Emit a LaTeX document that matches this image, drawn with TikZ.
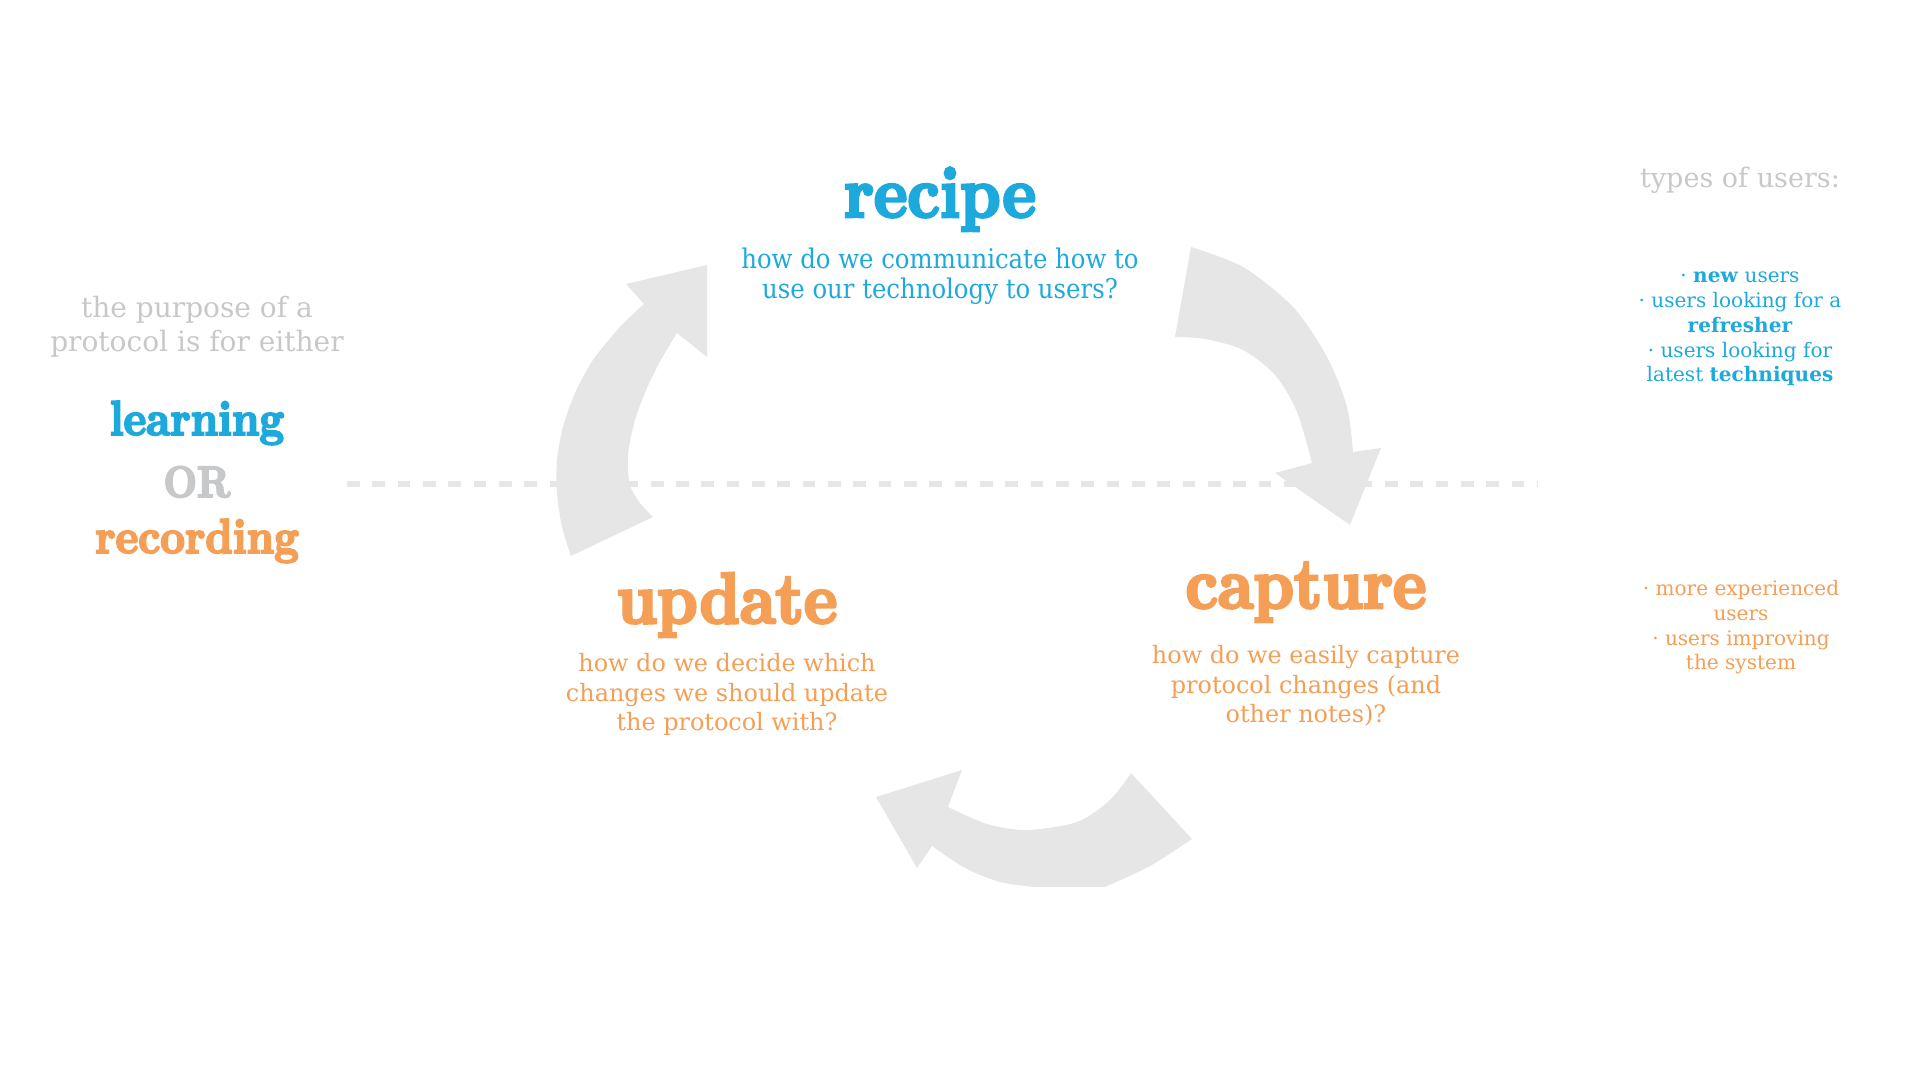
\documentclass[tikz,border=0pt]{standalone}
\usepackage{fontspec}
\setmainfont{DejaVu Serif}
\newfontfamily\headfont{lmroman10-bold.otf}[FakeStretch=0.88, FakeBold=4]
\newfontfamily\narrowfont{DejaVu Serif}[FakeStretch=0.9]
\usepackage{tikz}
\usetikzlibrary{positioning}

\definecolor{recipeblue}{HTML}{1EA9DC}
\definecolor{captureorange}{HTML}{F59E55}
\definecolor{notegray}{HTML}{C7C8CA}
\definecolor{arrowgray}{HTML}{E6E6E6}

\tikzset{
    stage/.style={font=\headfont\fontsize{20.5}{24}\selectfont, inner sep=0pt, anchor=base},
    bigword/.style={font=\headfont\fontsize{13.9}{16}\selectfont, inner sep=0pt, anchor=base},
    question/.style={font=\fontsize{6.8}{8.5}\selectfont, align=center, inner sep=0pt, anchor=base},
    usernote/.style={font=\fontsize{5.7}{7.1}\selectfont, align=center, inner sep=0pt, anchor=base},
    cyclearrow/.style={fill=arrowgray},
    divider/.style={draw=arrowgray, line width=1.7pt, dash pattern=on 3.6pt off 3.6pt}
}

\begin{document}
\begin{tikzpicture}[x=0.01cm, y=-0.01cm]
    \useasboundingbox (0,0) rectangle (1920,1080);

    % dashed line between the two halves
    \draw[divider] (347,484) -- (1538,484);

    % arrow from update up to recipe
    \fill[cyclearrow] plot [smooth] coordinates {(571,556) (562,527) (557,493) (557,460) (563,427) (575,393) (593,360) (620,327) (644,304)}
        -- (626,284) -- (707,265) -- (707,357) -- (677,333)
        -- plot [smooth] coordinates {(677,333) (662,358) (647,388) (635,420) (628,455) (630,485) (640,503) (653,517)} -- cycle;

    % arrow from recipe down to capture
    \fill[cyclearrow] plot [smooth] coordinates {(1191,247) (1243,267) (1293,307) (1327,357) (1347,407) (1353,452)}
        -- (1381,448) -- (1350,525) -- (1275,473) -- (1312,463)
        -- plot [smooth] coordinates {(1312,463) (1297,412) (1275,375) (1243,350) (1205,339) (1175,337)} -- cycle;

    % arrow from capture round to update
    \fill[cyclearrow] plot [smooth] coordinates {(1192,839) (1150,866) (1105,887)}
        -- (1035,887)
        -- plot [smooth] coordinates {(1035,887) (1000,882) (965,868) (932,846)}
        -- (917,868) -- (876,797) -- (962,770) -- (948,807)
        -- plot [smooth] coordinates {(948,807) (987,824) (1027,830) (1077,822) (1110,800) (1131,773)} -- cycle;

    % the three stages (question nodes sit on their last line)
    \node[stage, text=recipeblue] (recipe) at (940,217) {recipe};
    \node[question, text=recipeblue, font=\narrowfont\fontsize{7.7}{8.8}\selectfont] (recipeq) at (940,299)
        {how do we communicate how to\\use our technology to users?};

    \node[stage, text=captureorange] (update) at (727,623) {update};
    \node[question, text=captureorange] (updateq) at (727,731)
        {how do we decide which\\changes we should update\\the protocol with?};

    \node[stage, text=captureorange] (capture) at (1306,608) {capture};
    \node[question, text=captureorange] (captureq) at (1306,723)
        {how do we easily capture\\protocol changes (and\\other notes)?};

    % left side
    \node[question, text=notegray, font=\fontsize{7.97}{9.67}\selectfont] (purpose) at (197,352)
        {the purpose of a\\protocol is for either};
    \node[bigword, text=recipeblue] (learning) at (197,435) {learning};
    \node[bigword, text=notegray, font=\headfont\fontsize{12.5}{14}\selectfont] (or) at (197,497) {OR};
    \node[bigword, text=captureorange] (recording) at (197,553) {recording};

    % right side
    \node[usernote, text=notegray, font=\fontsize{7.68}{9}\selectfont] (usertypes) at (1740,188) {types of users:};
    \node[usernote, text=recipeblue] (newusers) at (1740,382)
        {· \textbf{new} users\\· users looking for a\\\textbf{refresher}\\· users looking for\\latest \textbf{techniques}};
    \node[usernote, text=captureorange] (oldusers) at (1741,670)
        {· more experienced\\users\\· users improving\\the system};
\end{tikzpicture}
\end{document}
